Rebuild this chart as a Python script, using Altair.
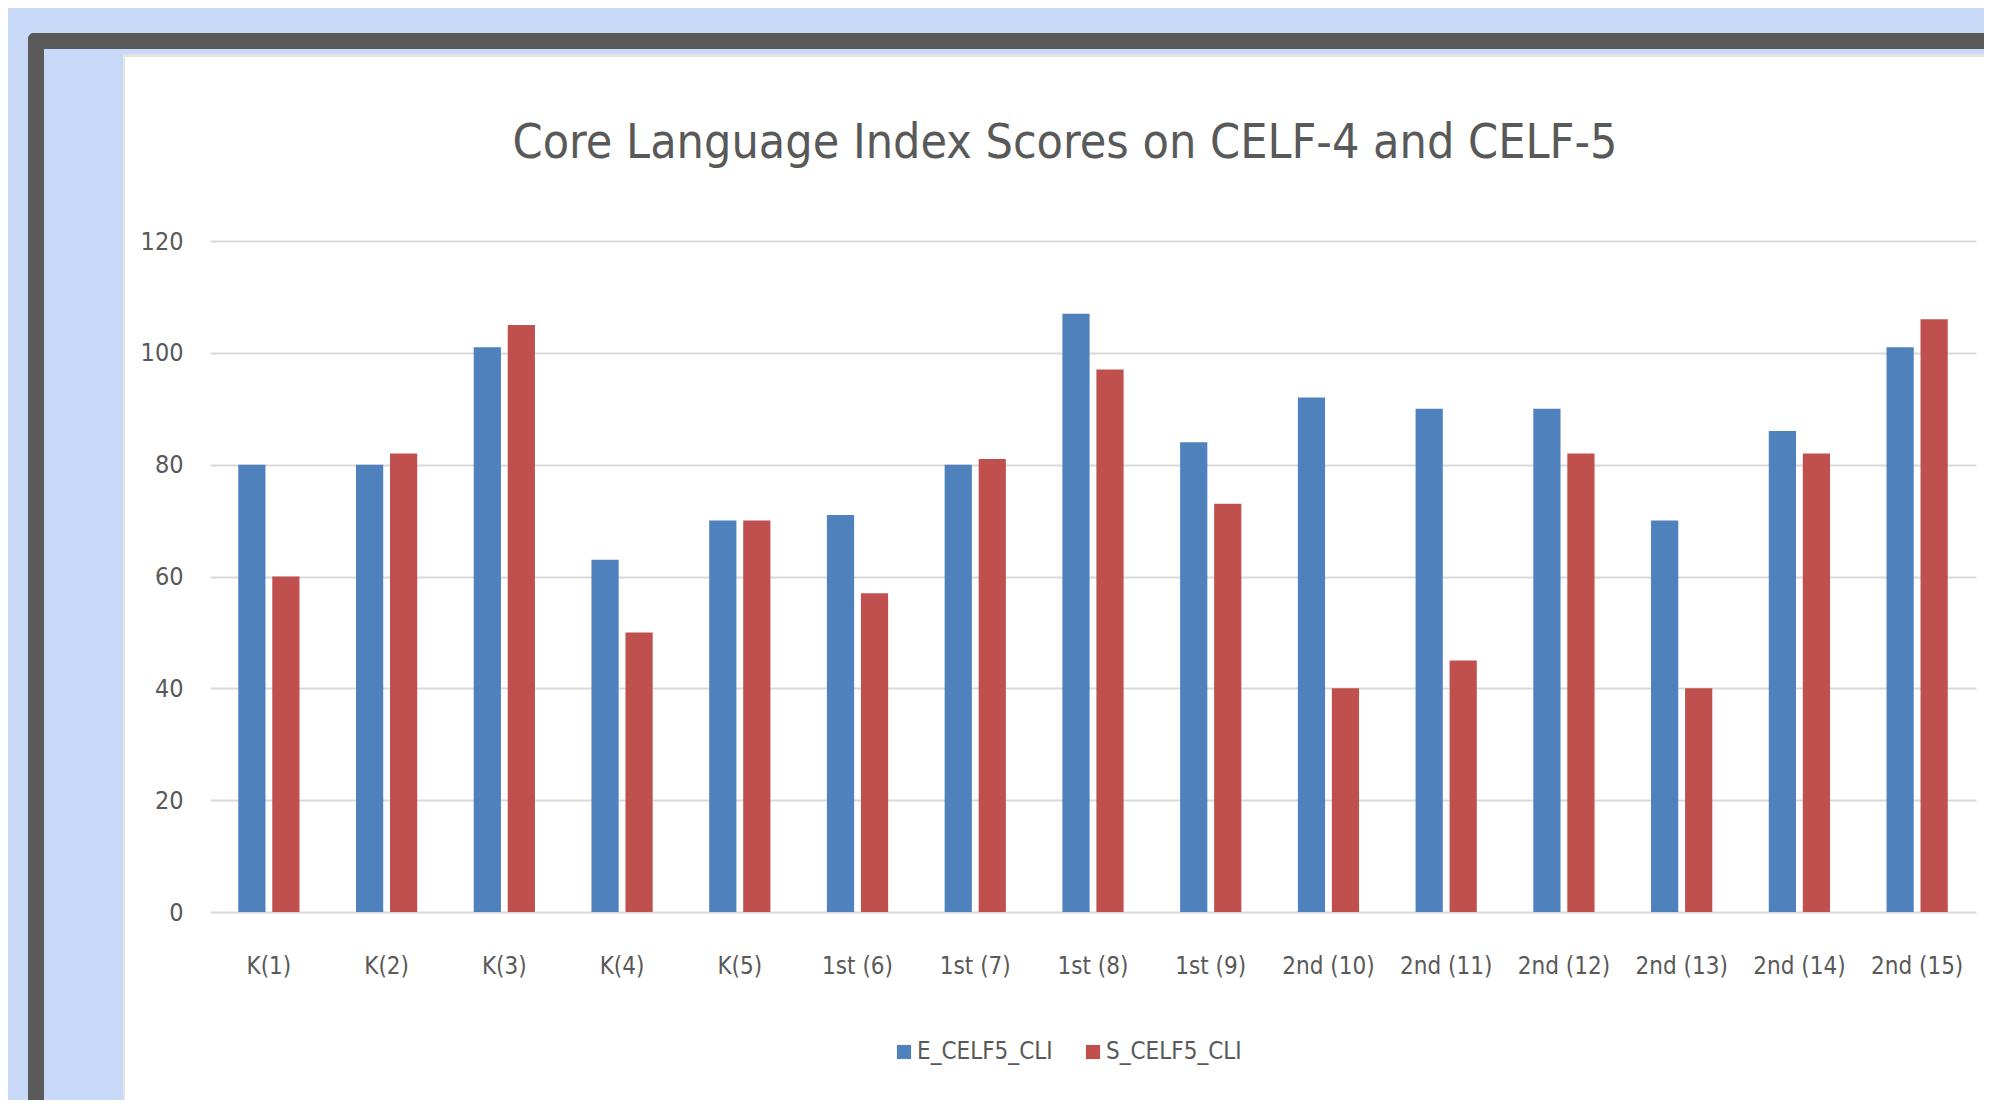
import altair as alt
import pandas as pd

categories = ["K(1)", "K(2)", "K(3)", "K(4)", "K(5)",
              "1st (6)", "1st (7)", "1st (8)", "1st (9)",
              "2nd (10)", "2nd (11)", "2nd (12)", "2nd (13)", "2nd (14)", "2nd (15)"]
e_celf5_cli = [80, 80, 101, 63, 70, 71, 80, 107, 84, 92, 90, 90, 70, 86, 101]
s_celf5_cli = [60, 82, 105, 50, 70, 57, 81, 97, 73, 40, 45, 82, 40, 82, 106]
series = ["E_CELF5_CLI", "S_CELF5_CLI"]
colors = ["#4f81bd", "#c0504d"]
y_ticks = [0, 20, 40, 60, 80, 100, 120]

rows = []
for c, e, s in zip(categories, e_celf5_cli, s_celf5_cli):
    rows.append({"group": c, "series": series[0], "score": e})
    rows.append({"group": c, "series": series[1], "score": s})
df = pd.DataFrame(rows)

FONT = "Liberation Sans Narrow, DejaVu Sans Condensed, Arial Narrow, Liberation Sans, sans-serif"
TXT = "#595959"

W, H = 1766, 671

bars = alt.Chart(df).mark_bar().encode(
    x=alt.X("group:N", sort=categories,
            scale=alt.Scale(paddingInner=0.48, paddingOuter=0.24),
            axis=alt.Axis(title=None, labelAngle=0, domain=False, ticks=False,
                          labelFontSize=24, labelPadding=42, labelColor=TXT,
                          labelFont=FONT)),
    xOffset=alt.XOffset("series:N", sort=series,
                        scale=alt.Scale(paddingInner=0.2, paddingOuter=0)),
    y=alt.Y("score:Q", scale=alt.Scale(domain=[0, 120]),
            axis=alt.Axis(values=y_ticks, title=None, domain=False, ticks=False,
                          grid=True, gridColor="#d9d9d9", gridWidth=2,
                          labelFontSize=25, labelPadding=27, labelColor=TXT,
                          labelFont=FONT)),
    color=alt.Color("series:N", sort=series,
                    scale=alt.Scale(domain=series, range=colors),
                    legend=alt.Legend(title=None, orient="none", legendX=682, legendY=799,
                                      direction="horizontal", symbolType="square",
                                      symbolSize=200, symbolStrokeWidth=0,
                                      labelFontSize=24, labelColor=TXT, labelFont=FONT,
                                      columnPadding=28, labelOffset=1, padding=0)),
)

def deco(color, x, x2, y, y2, **kw):
    return alt.Chart(pd.DataFrame({"k": [0]})).mark_rect(color=color, **kw).encode(
        x=alt.value(x), x2=alt.value(x2), y=alt.value(y), y2=alt.value(y2))

BLUE_BG = "#c9daf8"
GRAY = "#5a5a5a"
TOP = -233
frame = [
    deco(BLUE_BG, -202, 1774, TOP, -187),
    deco(BLUE_BG, -202, -87, TOP, 859),
    deco("#e4e4e4", -87, 1774, -187, -184),
    deco("#e4e4e4", -87, -85, -187, 859),
    deco(GRAY, -182, 1774, -208, -192, cornerRadiusTopLeft=6),
    deco(GRAY, -182, -166, -208, 859, cornerRadiusTopLeft=6),
]

chart = alt.layer(*frame, bars).properties(
    width=W, height=H,
    title=alt.Title("Core Language Index Scores on CELF-4 and CELF-5",
                    fontSize=48, font=FONT, color=TXT, fontWeight="normal",
                    anchor="middle", dx=-28, offset=-160),
    autosize=alt.AutoSizeParams(type="none"),
    padding={"left": 202, "top": 233, "right": 8, "bottom": 188},
    background="white",
).configure_view(stroke=None)

chart.save("out.html", embed_options={"renderer": "svg", "actions": False})
